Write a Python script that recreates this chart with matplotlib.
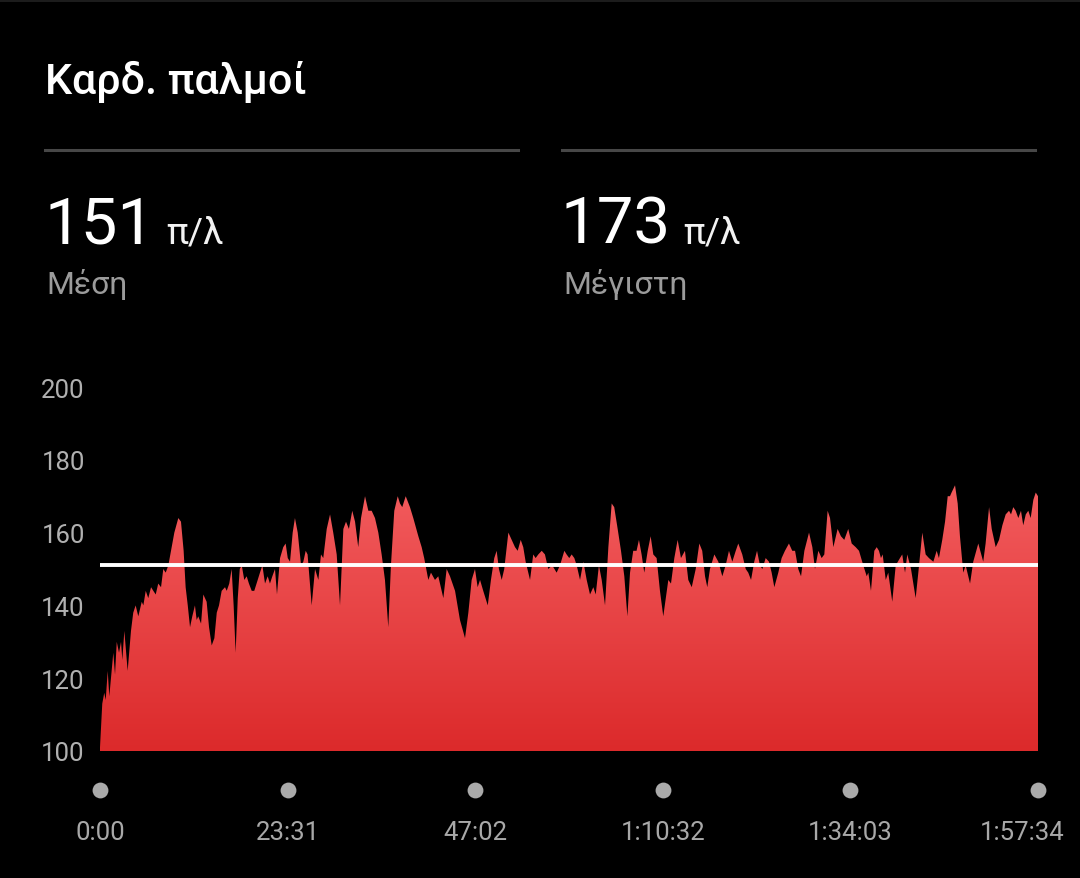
import numpy as np
import matplotlib
matplotlib.use("Agg")
import matplotlib.pyplot as plt
from matplotlib.colors import LinearSegmentedColormap
from matplotlib.lines import Line2D
from matplotlib.patches import Rectangle
from matplotlib.transforms import ScaledTranslation

plt.rcParams['font.family'] = ['Roboto', 'DejaVu Sans']

# heart rate samples (elapsed seconds, bpm)
elapsed_s = [
    0, 17, 32, 43, 58, 70, 100, 113, 126, 143, 158, 168, 183, 208, 233, 250, 268, 288, 314, 326,
    344, 363, 384, 401, 419, 438, 459, 476, 494, 514, 539, 559, 589, 609, 629, 644, 660, 677, 694, 714,
    727, 739, 760, 777, 802, 820, 840, 860, 878, 895, 915, 940, 953, 972, 990, 1005, 1020, 1036, 1051, 1066,
    1085, 1103, 1120, 1141, 1160, 1186, 1203, 1221, 1241, 1261, 1278, 1296, 1316, 1331, 1354, 1378, 1396, 1412, 1429, 1449,
    1466, 1487, 1512, 1529, 1547, 1561, 1592, 1617, 1642, 1662, 1679, 1705, 1730, 1754, 1780, 1805, 1830, 1850, 1872, 1897,
    1918, 1942, 1963, 1993, 2018, 2043, 2068, 2093, 2118, 2143, 2168, 2188, 2213, 2239, 2256, 2273, 2299, 2331, 2356, 2394,
    2419, 2438, 2469, 2489, 2519, 2544, 2582, 2607, 2632, 2670, 2707, 2745, 2770, 2795, 2820, 2840, 2858, 2882, 2916, 2940,
    2965, 2983, 3000, 3021, 3040, 3071, 3096, 3121, 3141, 3164, 3183, 3201, 3234, 3258, 3276, 3296, 3322, 3346, 3371, 3401,
    3434, 3459, 3492, 3509, 3529, 3547, 3567, 3585, 3610, 3635, 3660, 3685, 3710, 3728, 3752, 3773, 3798, 3823, 3848, 3867,
    3893, 3918, 3943, 3966, 3986, 4010, 4035, 4053, 4073, 4093, 4119, 4141, 4161, 4186, 4211, 4236, 4274, 4294, 4319, 4344,
    4369, 4399, 4424, 4450, 4480, 4507, 4529, 4550, 4567, 4587, 4620, 4650, 4680, 4705, 4730, 4755, 4781, 4800, 4830, 4856,
    4875, 4896, 4920, 4941, 4963, 4981, 5006, 5031, 5051, 5071, 5101, 5126, 5151, 5181, 5206, 5227, 5251, 5272, 5297, 5332,
    5357, 5377, 5402, 5427, 5447, 5472, 5490, 5515, 5547, 5572, 5597, 5627, 5653, 5683, 5708, 5740, 5766, 5778, 5798, 5823,
    5841, 5858, 5873, 5886, 5909, 5928, 5958, 5984, 6016, 6033, 6054, 6071, 6099, 6134, 6154, 6184, 6209, 6234, 6267, 6292,
    6309, 6334, 6355, 6375, 6392, 6404, 6430, 6450, 6467, 6492, 6510, 6543, 6567, 6605, 6642, 6660, 6686, 6706, 6736, 6761,
    6786, 6811, 6836, 6851, 6868, 6886, 6906, 6926, 6943, 6962, 6981, 6999, 7019, 7037, 7054,
]
heart_rate = [
    101, 113, 116, 114, 122, 115, 127, 121, 130, 127, 130, 125, 133, 122, 133, 138, 140, 137, 141, 140,
    144, 142, 145, 144, 143, 146, 145, 150, 149, 151, 156, 160, 164, 163, 155, 145, 140, 134, 137, 140,
    136, 137, 135, 143, 141, 134, 129, 131, 138, 140, 144, 145, 144, 146, 150, 140, 127, 142, 150, 151,
    147, 148, 146, 144, 144, 147, 149, 151, 146, 148, 146, 148, 150, 143, 153, 156, 157, 153, 152, 160,
    164, 160, 151, 152, 155, 154, 140, 150, 147, 154, 153, 161, 165, 160, 154, 140, 161, 163, 161, 166,
    163, 156, 164, 170, 166, 166, 164, 160, 154, 147, 134, 151, 166, 170, 168, 167, 170, 167, 164, 159,
    156, 153, 147, 149, 147, 148, 142, 150, 148, 144, 136, 131, 138, 147, 150, 145, 147, 144, 140, 147,
    153, 155, 150, 147, 150, 160, 158, 156, 155, 158, 156, 152, 147, 154, 153, 154, 155, 154, 150, 151,
    149, 151, 155, 154, 153, 154, 153, 151, 147, 152, 147, 143, 145, 143, 151, 147, 140, 156, 168, 167,
    161, 155, 148, 137, 149, 155, 155, 158, 154, 149, 155, 159, 154, 153, 144, 137, 147, 146, 153, 158,
    153, 155, 147, 145, 150, 157, 155, 148, 145, 150, 154, 152, 148, 151, 155, 152, 155, 157, 154, 150,
    149, 147, 152, 155, 151, 150, 153, 152, 149, 145, 149, 153, 155, 157, 155, 155, 150, 148, 155, 160,
    156, 150, 155, 153, 154, 166, 164, 156, 161, 159, 158, 161, 157, 156, 155, 151, 148, 149, 144, 155,
    156, 155, 153, 154, 147, 149, 141, 151, 153, 154, 149, 154, 150, 142, 149, 160, 154, 153, 152, 155,
    153, 158, 163, 170, 170, 171, 173, 168, 159, 149, 151, 146, 152, 157, 152, 157, 167, 161, 156, 158,
    162, 165, 166, 165, 167, 166, 164, 166, 162, 165, 166, 164, 169, 171, 170,
]

avg_bpm = 151
max_bpm = 173
y_ticks = [100, 120, 140, 160, 180, 200]
x_ticks = [0, 1411, 2822, 4232, 5643, 7054]
x_tick_labels = ["0:00", "23:31", "47:02", "1:10:32", "1:34:03", "1:57:34"]

W, H = 1080, 879
fig = plt.figure(figsize=(W / 100, H / 100), dpi=100, facecolor='black')

# thin status strip at the very top
fig.patches.append(Rectangle((0, 1 - 3 / H), 1, 3 / H, transform=fig.transFigure,
                             facecolor='#1c1c1c', edgecolor='none'))

# header texts
fig.text(45 / W, 1 - 94 / H, "Καρδ. παλμοί", color='white', fontsize=31,
         fontweight='medium', va='baseline', ha='left')
for x0, x1 in [(45, 518), (562, 1035)]:
    fig.add_artist(Line2D([x0 / W, x1 / W], [1 - 151 / H] * 2, color='#474747', lw=2.2))

for x_num, x_unit, value, caption in [(44, 166, avg_bpm, "Μέση"), (561, 683, max_bpm, "Μέγιστη")]:
    fig.text(x_num / W, 1 - 243 / H, str(value), color='white', fontsize=47,
             fontweight='normal', va='baseline', ha='left')
    fig.text(x_unit / W, 1 - 243 / H, "π/λ", color='#f2f2f2', fontsize=26.5,
             va='baseline', ha='left')
    fig.text(x_num / W + 2 / W, 1 - 294 / H, caption, color='#9b9b9b', fontsize=23,
             va='baseline', ha='left')

# chart area: x 100..1038 px, y 388..752 px
ax = fig.add_axes([100 / W, (H - 752) / H, 938 / W, 364 / H])
ax.set_facecolor('black')

poly = ax.fill_between(elapsed_s, heart_rate, y_ticks[0], color='none', lw=0)
grad = np.linspace(0, 1, 256).reshape(-1, 1)
cmap = LinearSegmentedColormap.from_list('hr', ['#dc2a2b', '#f35d5f'])
im = ax.imshow(grad, cmap=cmap, aspect='auto', origin='lower',
               extent=[0, x_ticks[-1], y_ticks[0], 175], zorder=1)
im.set_clip_path(poly.get_paths()[0], transform=ax.transData)

ax.axhline(avg_bpm, color='white', lw=2.8, zorder=3)

ax.set_xlim(0, x_ticks[-1])
ax.set_ylim(y_ticks[0], y_ticks[-1])
for s in ax.spines.values():
    s.set_visible(False)

ax.set_yticks(y_ticks)
ax.set_yticklabels([str(v) for v in y_ticks])
ax.tick_params(axis='y', length=0, pad=11, labelsize=18.5, labelcolor='#b0b0b0')

ax.set_xticks(x_ticks)
ax.set_xticklabels(x_tick_labels)
ax.tick_params(axis='x', length=0, pad=50, labelsize=18.5, labelcolor='#a8a8a8')
# last label is pulled in so it stays on screen
last = ax.get_xticklabels()[-1]
last.set_transform(last.get_transform() + ScaledTranslation(-16 / 100, 0, fig.dpi_scale_trans))

# grey dots under each time tick
ax.scatter(x_ticks, [-0.107] * len(x_ticks), transform=ax.get_xaxis_transform(),
           s=130, color='#aaaaaa', clip_on=False, zorder=4, linewidths=0)

fig.savefig("out.png", dpi=100, facecolor='black')
